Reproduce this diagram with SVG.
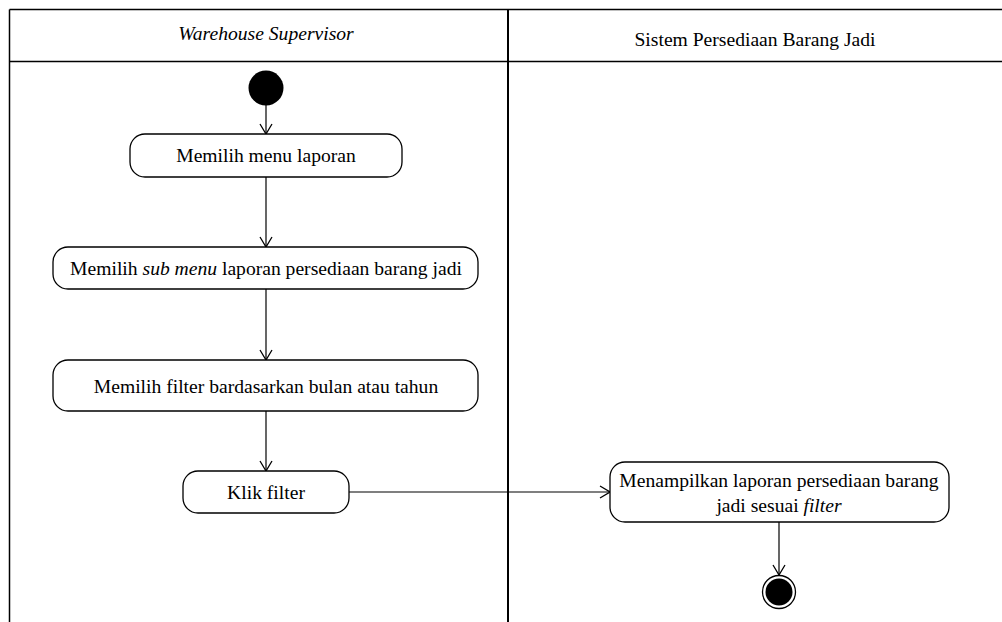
<svg xmlns="http://www.w3.org/2000/svg" width="1002" height="622" viewBox="0 0 1002 622">
  <style>
    .lane { fill: none; stroke: #000; stroke-width: 1.5; }
    .divider { fill: none; stroke: #000; stroke-width: 2; }
    .action { fill: #fff; stroke: #000; stroke-width: 1.3; }
    .flow { fill: none; stroke: #000; stroke-width: 1.2; marker-end: url(#open-arrow); }
    text { font-family: "Liberation Serif", "Times New Roman", serif; font-size: 19.6px; fill: #000; text-anchor: middle; }
    .it { font-style: italic; }
  </style>
  <defs>
    <marker id="open-arrow" viewBox="0 0 12 14" refX="11" refY="7" markerWidth="12" markerHeight="14" markerUnits="userSpaceOnUse" orient="auto">
      <path d="M1,1 L11,7 L1,13" fill="none" stroke="#000" stroke-width="1.3"/>
    </marker>
  </defs>
  <rect width="1002" height="622" fill="#fff"/>

  <!-- swimlane frame -->
  <g id="swimlanes">
    <line class="lane" x1="9.5" y1="9.5" x2="1002" y2="9.5"/>
    <line class="lane" x1="9.5" y1="61.5" x2="1002" y2="61.5"/>
    <line class="lane" x1="9.5" y1="9.5" x2="9.5" y2="622"/>
    <line class="divider" x1="508" y1="9.5" x2="508" y2="622"/>
    <text class="it" x="266" y="40">Warehouse Supervisor</text>
    <text x="755" y="46">Sistem Persediaan Barang Jadi</text>
  </g>

  <!-- control flows -->
  <g id="connectors">
    <line class="flow" x1="266" y1="105" x2="266" y2="134"/>
    <line class="flow" x1="266" y1="177" x2="266" y2="247"/>
    <line class="flow" x1="266" y1="289" x2="266" y2="360"/>
    <line class="flow" x1="266" y1="411" x2="266" y2="471"/>
    <line class="flow" x1="349" y1="492" x2="610" y2="492"/>
    <line class="flow" x1="779" y1="522" x2="779" y2="575"/>
  </g>

  <g id="start">
    <circle cx="266" cy="88" r="17.5" fill="#000"/>
  </g>

  <g id="memilih-menu">
    <rect class="action" x="130" y="134" width="272" height="43" rx="15"/>
    <text x="266" y="162">Memilih menu laporan</text>
  </g>

  <g id="memilih-sub-menu">
    <rect class="action" x="53" y="247" width="425" height="42" rx="15"/>
    <text x="266" y="275">Memilih <tspan class="it">sub menu</tspan> laporan persediaan barang jadi</text>
  </g>

  <g id="memilih-filter">
    <rect class="action" x="53" y="360" width="425" height="51" rx="15"/>
    <text x="266" y="393">Memilih filter bardasarkan bulan atau tahun</text>
  </g>

  <g id="klik-filter">
    <rect class="action" x="183" y="471" width="166" height="42" rx="15"/>
    <text x="266" y="499">Klik filter</text>
  </g>

  <g id="menampilkan-laporan">
    <rect class="action" x="610" y="462" width="339" height="60" rx="15"/>
    <text x="779" y="487">Menampilkan laporan persediaan barang</text>
    <text x="779" y="512">jadi sesuai <tspan class="it">filter</tspan></text>
  </g>

  <g id="end">
    <circle cx="779" cy="592" r="16.5" fill="#fff" stroke="#000" stroke-width="1.3"/>
    <circle cx="779" cy="592" r="13.5" fill="#000"/>
  </g>
</svg>
